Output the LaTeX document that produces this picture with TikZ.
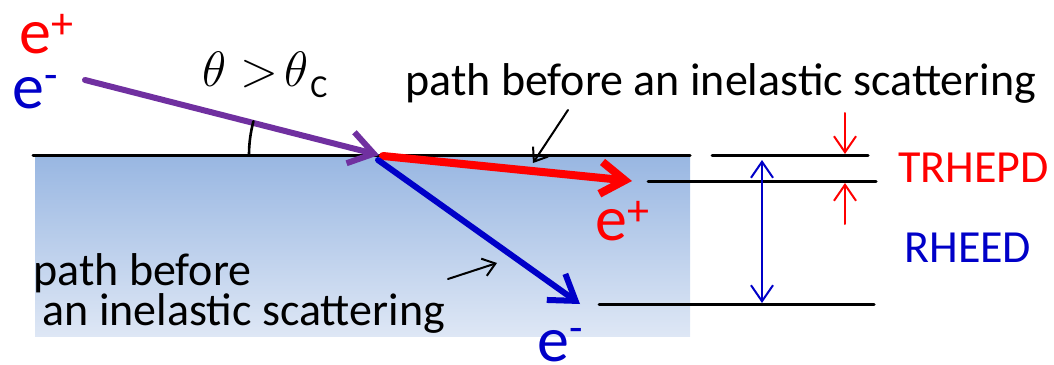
\documentclass[tikz,border=0pt]{standalone}
\usepackage{fontspec}
\setmainfont{Carlito}
\usetikzlibrary{arrows.meta,positioning}
\definecolor{beampurple}{RGB}{112,48,160}
\definecolor{posred}{RGB}{255,0,0}
\definecolor{elblue}{RGB}{0,0,200}
\definecolor{slabtop}{RGB}{153,183,226}
\definecolor{slabbot}{RGB}{222,231,245}
\newcommand{\chg}[2]{e\raisebox{#2}{\fontsize{22}{22}\selectfont #1}}
\tikzset{
  beam/.style={line width=3pt, -{Straight Barb[length=12pt,width=16pt]}},
  note/.style={line width=1pt, -{Straight Barb[length=6pt,width=9pt]}},
  span/.style={line width=1pt, {Straight Barb[length=8pt,width=11pt]}-{Straight Barb[length=8pt,width=11pt]}},
  level/.style={line width=1.5pt},
  lbl/.style={inner sep=0pt, font=\fontsize{23}{20}\selectfont},
  particle/.style={inner sep=0pt, anchor=base west, font=\fontsize{32}{32}\selectfont},
  every picture/.style={line cap=round, line join=round}
}

\begin{document}
\begin{tikzpicture}[x=0.5pt,y=-0.5pt]
  \useasboundingbox (0,0) rectangle (1054,364);

  % crystal
  \shade[top color=slabtop, bottom color=slabbot] (35,157) rectangle (690,336);
  \coordinate (sl) at (33,155);
  \coordinate (sr) at (690,155);
  \draw[level] (sl) -- (sr);

  % beams
  \coordinate (src) at (85,80);
  \coordinate (hit) at (379,155);
  \coordinate (ptip) at (632,181);
  \coordinate (etip) at (580,304);
  \draw[beam, draw=beampurple] (src) -- (hit);
  \draw[beam, draw=posred, line width=4pt] (383,156) -- (ptip);
  \draw[beam, draw=elblue] (378,160) -- (etip);
  \draw[line width=1.3pt] ([shift={(180:65pt)}]hit) arc[start angle=180, end angle=165, radius=65pt];

  \node[particle, text=posred] (einA) at (19,54) {\chg{+}{7.5pt}};
  \node[particle, text=elblue] (einB) at (12,108) {\chg{-}{9.5pt}};
  \node[particle, text=posred] (eoutA) at (595,240) {\chg{+}{7.5pt}};
  \node[particle, text=elblue] (eoutB) at (537,361) {\chg{-}{9.5pt}};

  \node[inner sep=0pt, anchor=base west, font=\fontsize{25}{25}\selectfont] (angle) at (202,86)
    {$\theta$\hspace{7pt}{\fontsize{26}{26}\selectfont$>$}\hspace{3pt}$\theta$\hspace{1pt}\raisebox{-5.5pt}{\fontsize{16}{16}\selectfont C}};

  % notes
  \node[lbl, anchor=base west] (topnote) at (405,95) {path before an inelastic scattering};
  \node[lbl, anchor=base west, align=left] (leftnote) at (33,325) {path before\\\hspace{0.2em}an inelastic scattering};
  \coordinate (ntA) at (568,110);
  \coordinate (nhA) at (533,163);
  \coordinate (ntB) at (448,279);
  \coordinate (nhB) at (497,263);
  \draw[note] (ntA) -- (nhA);
  \draw[note] (ntB) -- (nhB);

  % depth scale
  \coordinate (l1a) at (712,155);
  \coordinate (l1b) at (868,155);
  \coordinate (l2a) at (648,181);
  \coordinate (l2b) at (876,181);
  \coordinate (l3a) at (599,304);
  \coordinate (l3b) at (874,304);
  \draw[level] (l1a) -- (l1b);
  \draw[level] (l2a) -- (l2b);
  \draw[level] (l3a) -- (l3b);
  \coordinate (rh1) at (762,160);
  \coordinate (rh2) at (762,303);
  \draw[span, draw=elblue] (rh1) -- (rh2);
  \coordinate (tr1) at (845,113);
  \coordinate (tr2) at (845,154);
  \coordinate (tr3) at (845,224);
  \coordinate (tr4) at (845,183);
  \draw[note, draw=posred, -{Straight Barb[length=8pt,width=11pt]}] (tr1) -- (tr2);
  \draw[note, draw=posred, -{Straight Barb[length=8pt,width=11pt]}] (tr3) -- (tr4);

  \node[lbl, anchor=base west, text=posred] (trhepd) at (898,182) {TRHEPD};
  \node[lbl, anchor=base west, text=elblue] (rheed) at (904,262) {RHEED};
\end{tikzpicture}
\end{document}
